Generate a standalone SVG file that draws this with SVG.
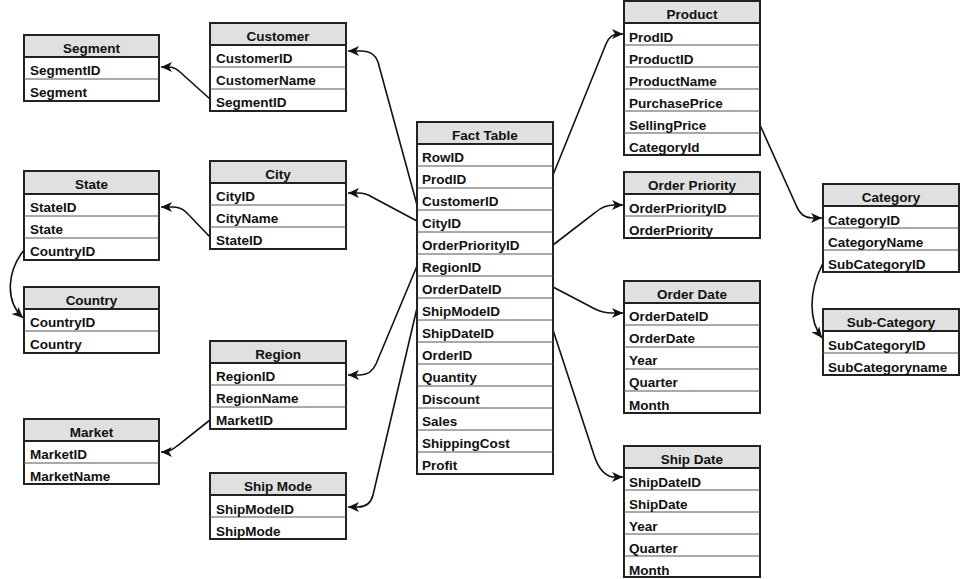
<svg xmlns="http://www.w3.org/2000/svg" width="960" height="579" viewBox="0 0 960 579">
<defs>
<style>
.box{fill:#fff;stroke:#222;stroke-width:2}
.hd{fill:#e0e0e0;stroke:#222;stroke-width:2}
.sep{stroke:#555;stroke-width:1}
text{font-family:"Liberation Sans",Arial,sans-serif;font-size:13.5px;font-weight:bold;fill:#111;transform:translate(0px,1.5px)}
.h{text-anchor:middle}
.c{fill:none;stroke:#111;stroke-width:1.6}
</style>
<marker id="arr" markerUnits="userSpaceOnUse" markerWidth="12" markerHeight="10" refX="11" refY="5" orient="auto">
<path d="M0,0 L11,5 L0,10 L3,5 z" fill="#111"/>
</marker>
</defs>
<rect width="960" height="579" fill="#fff"/>

<g id="connectors">
<path class="c" marker-end="url(#arr)" d="M417,205 L378,62 Q374,51 362,51 L348,51"/>
<path class="c" marker-end="url(#arr)" d="M417,221 L372,197 Q366,193 358,193 L348,193"/>
<path class="c" marker-end="url(#arr)" d="M210,99 L180,72 Q175,67 168,67 L161,67"/>
<path class="c" marker-end="url(#arr)" d="M210,237 L186,212 Q181,207 172,207 L161,207"/>
<path class="c" marker-end="url(#arr)" d="M24,250 C8,270 4,300 23,318"/>
<path class="c" marker-end="url(#arr)" d="M417,266 L376,364 Q371,375 360,375 L348,375"/>
<path class="c" marker-end="url(#arr)" d="M417,308 L373,495 Q370,507 358,507 L348,507"/>
<path class="c" marker-end="url(#arr)" d="M210,420 L177,446 Q170,452 163,452 L161,452"/>
<path class="c" marker-end="url(#arr)" d="M553,175 L606,44 Q610,34 618,34 L623,34"/>
<path class="c" marker-end="url(#arr)" d="M553,245 L596,212 Q604,205 614,205 L623,205"/>
<path class="c" marker-end="url(#arr)" d="M553,287 L595,309 Q603,313 612,313 L623,313"/>
<path class="c" marker-end="url(#arr)" d="M553,330 L594,455 Q600,474 612,477 L623,477"/>
<path class="c" marker-end="url(#arr)" d="M760,125 L796,205 Q801,218 812,218 L822,218"/>
<path class="c" marker-end="url(#arr)" d="M823,263 Q812,285 812,305 Q812,325 822,338"/>
</g>

<g id="segment">
<rect class="box" x="24" y="35" width="135" height="66"/>
<rect class="hd" x="24" y="35" width="135" height="22"/>
<line class="sep" x1="24" y1="79" x2="159" y2="79"/>
<text class="h" x="91.5" y="51">Segment</text>
<text x="30" y="73">SegmentID</text>
<text x="30" y="95">Segment</text>
</g>

<g id="customer">
<rect class="box" x="210" y="23" width="136" height="88"/>
<rect class="hd" x="210" y="23" width="136" height="22"/>
<line class="sep" x1="210" y1="67" x2="346" y2="67"/>
<line class="sep" x1="210" y1="89" x2="346" y2="89"/>
<text class="h" x="278" y="39">Customer</text>
<text x="216" y="61">CustomerID</text>
<text x="216" y="83">CustomerName</text>
<text x="216" y="105">SegmentID</text>
</g>

<g id="state">
<rect class="box" x="24" y="171" width="135" height="89"/>
<rect class="hd" x="24" y="171" width="135" height="23"/>
<line class="sep" x1="24" y1="216" x2="159" y2="216"/>
<line class="sep" x1="24" y1="238" x2="159" y2="238"/>
<text class="h" x="91.5" y="187">State</text>
<text x="30" y="210">StateID</text>
<text x="30" y="232">State</text>
<text x="30" y="254">CountryID</text>
</g>

<g id="city">
<rect class="box" x="210" y="161" width="136" height="88"/>
<rect class="hd" x="210" y="161" width="136" height="22"/>
<line class="sep" x1="210" y1="205" x2="346" y2="205"/>
<line class="sep" x1="210" y1="227" x2="346" y2="227"/>
<text class="h" x="278" y="177">City</text>
<text x="216" y="199">CityID</text>
<text x="216" y="221">CityName</text>
<text x="216" y="243">StateID</text>
</g>

<g id="country">
<rect class="box" x="24" y="287" width="135" height="66"/>
<rect class="hd" x="24" y="287" width="135" height="22"/>
<line class="sep" x1="24" y1="331" x2="159" y2="331"/>
<text class="h" x="91.5" y="303">Country</text>
<text x="30" y="325">CountryID</text>
<text x="30" y="347">Country</text>
</g>

<g id="region">
<rect class="box" x="210" y="341" width="136" height="88"/>
<rect class="hd" x="210" y="341" width="136" height="22"/>
<line class="sep" x1="210" y1="385" x2="346" y2="385"/>
<line class="sep" x1="210" y1="407" x2="346" y2="407"/>
<text class="h" x="278" y="357">Region</text>
<text x="216" y="379">RegionID</text>
<text x="216" y="401">RegionName</text>
<text x="216" y="423">MarketID</text>
</g>

<g id="market">
<rect class="box" x="24" y="419" width="135" height="65"/>
<rect class="hd" x="24" y="419" width="135" height="22"/>
<line class="sep" x1="24" y1="463" x2="159" y2="463"/>
<text class="h" x="91.5" y="435">Market</text>
<text x="30" y="457">MarketID</text>
<text x="30" y="479">MarketName</text>
</g>

<g id="shipmode">
<rect class="box" x="210" y="473" width="136" height="66"/>
<rect class="hd" x="210" y="473" width="136" height="22"/>
<line class="sep" x1="210" y1="517" x2="346" y2="517"/>
<text class="h" x="278" y="489">Ship Mode</text>
<text x="216" y="512">ShipModeID</text>
<text x="216" y="534">ShipMode</text>
</g>

<g id="facttable">
<rect class="box" x="417" y="122" width="136" height="352"/>
<rect class="hd" x="417" y="122" width="136" height="22"/>
<g class="sep">
<line x1="417" y1="166" x2="553" y2="166"/>
<line x1="417" y1="188" x2="553" y2="188"/>
<line x1="417" y1="210" x2="553" y2="210"/>
<line x1="417" y1="232" x2="553" y2="232"/>
<line x1="417" y1="254" x2="553" y2="254"/>
<line x1="417" y1="276" x2="553" y2="276"/>
<line x1="417" y1="298" x2="553" y2="298"/>
<line x1="417" y1="320" x2="553" y2="320"/>
<line x1="417" y1="342" x2="553" y2="342"/>
<line x1="417" y1="364" x2="553" y2="364"/>
<line x1="417" y1="386" x2="553" y2="386"/>
<line x1="417" y1="408" x2="553" y2="408"/>
<line x1="417" y1="430" x2="553" y2="430"/>
<line x1="417" y1="452" x2="553" y2="452"/>
</g>
<text class="h" x="485" y="138">Fact Table</text>
<text x="422" y="160">RowID</text>
<text x="422" y="182">ProdID</text>
<text x="422" y="204">CustomerID</text>
<text x="422" y="226">CityID</text>
<text x="422" y="248">OrderPriorityID</text>
<text x="422" y="270">RegionID</text>
<text x="422" y="292">OrderDateID</text>
<text x="422" y="314">ShipModeID</text>
<text x="422" y="336">ShipDateID</text>
<text x="422" y="358">OrderID</text>
<text x="422" y="380">Quantity</text>
<text x="422" y="402">Discount</text>
<text x="422" y="424">Sales</text>
<text x="422" y="446">ShippingCost</text>
<text x="422" y="468">Profit</text>
</g>

<g id="product">
<rect class="box" x="624" y="1" width="136" height="154"/>
<rect class="hd" x="624" y="1" width="136" height="22"/>
<g class="sep">
<line x1="624" y1="45" x2="760" y2="45"/>
<line x1="624" y1="67" x2="760" y2="67"/>
<line x1="624" y1="89" x2="760" y2="89"/>
<line x1="624" y1="111" x2="760" y2="111"/>
<line x1="624" y1="133" x2="760" y2="133"/>
</g>
<text class="h" x="692" y="17">Product</text>
<text x="629" y="40">ProdID</text>
<text x="629" y="62">ProductID</text>
<text x="629" y="84">ProductName</text>
<text x="629" y="106">PurchasePrice</text>
<text x="629" y="128">SellingPrice</text>
<text x="629" y="150">CategoryId</text>
</g>

<g id="orderpriority">
<rect class="box" x="624" y="172" width="136" height="66"/>
<rect class="hd" x="624" y="172" width="136" height="22"/>
<line class="sep" x1="624" y1="216" x2="760" y2="216"/>
<text class="h" x="692" y="188">Order Priority</text>
<text x="629" y="211">OrderPriorityID</text>
<text x="629" y="233">OrderPriority</text>
</g>

<g id="orderdate">
<rect class="box" x="624" y="281" width="136" height="132"/>
<rect class="hd" x="624" y="281" width="136" height="22"/>
<g class="sep">
<line x1="624" y1="325" x2="760" y2="325"/>
<line x1="624" y1="347" x2="760" y2="347"/>
<line x1="624" y1="369" x2="760" y2="369"/>
<line x1="624" y1="391" x2="760" y2="391"/>
</g>
<text class="h" x="692" y="297">Order Date</text>
<text x="629" y="319">OrderDateID</text>
<text x="629" y="341">OrderDate</text>
<text x="629" y="363">Year</text>
<text x="629" y="385">Quarter</text>
<text x="629" y="408">Month</text>
</g>

<g id="shipdate">
<rect class="box" x="624" y="446" width="136" height="131"/>
<rect class="hd" x="624" y="446" width="136" height="22"/>
<g class="sep">
<line x1="624" y1="490" x2="760" y2="490"/>
<line x1="624" y1="512" x2="760" y2="512"/>
<line x1="624" y1="534" x2="760" y2="534"/>
<line x1="624" y1="556" x2="760" y2="556"/>
</g>
<text class="h" x="692" y="462">Ship Date</text>
<text x="629" y="485">ShipDateID</text>
<text x="629" y="507">ShipDate</text>
<text x="629" y="529">Year</text>
<text x="629" y="551">Quarter</text>
<text x="629" y="573">Month</text>
</g>

<g id="category">
<rect class="box" x="823" y="184" width="136" height="88"/>
<rect class="hd" x="823" y="184" width="136" height="22"/>
<line class="sep" x1="823" y1="228" x2="959" y2="228"/>
<line class="sep" x1="823" y1="250" x2="959" y2="250"/>
<text class="h" x="891" y="200">Category</text>
<text x="828" y="223">CategoryID</text>
<text x="828" y="245">CategoryName</text>
<text x="828" y="267">SubCategoryID</text>
</g>

<g id="subcategory">
<rect class="box" x="823" y="309" width="136" height="66"/>
<rect class="hd" x="823" y="309" width="136" height="22"/>
<line class="sep" x1="823" y1="353" x2="959" y2="353"/>
<text class="h" x="891" y="325">Sub-Category</text>
<text x="828" y="348">SubCategoryID</text>
<text x="828" y="370">SubCategoryname</text>
</g>
</svg>
